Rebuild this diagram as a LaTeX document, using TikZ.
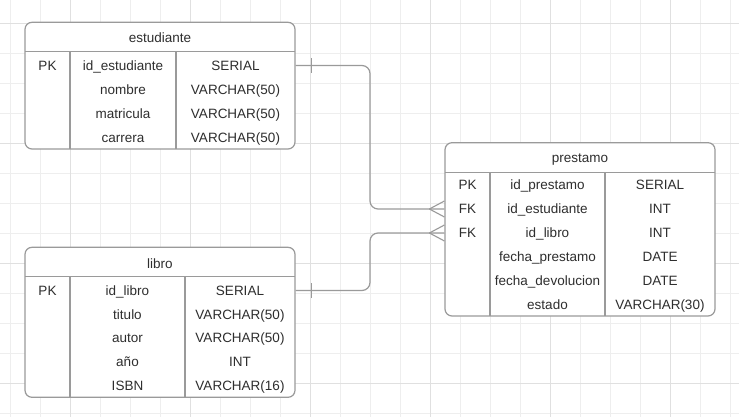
\documentclass[tikz,border=0pt]{standalone}
\usepackage{fontspec}
\setmainfont{Liberation Sans}
\definecolor{bordergray}{HTML}{9A9A9A}
\definecolor{textgray}{HTML}{2E2E2E}
\definecolor{gridminor}{HTML}{EEEEEE}
\definecolor{gridmajor}{HTML}{E0E0E0}
\begin{document}
\begin{tikzpicture}[x=1pt,y=-1pt,
  tbl/.style={draw=bordergray, line width=1.2pt, rounded corners=7pt, inner sep=0pt, fill=white},
  sep/.style={draw=bordergray, line width=1.2pt},
  cell/.style={text=textgray, font=\fontsize{13.5}{15}\selectfont, inner sep=0pt, anchor=center, text height=9.8pt, text depth=0.6pt},
  conn/.style={draw=bordergray, line width=1.2pt, rounded corners=8pt},
  mark1/.style={draw=bordergray, line width=1.1pt}
]
\useasboundingbox (0,0) rectangle (739,417);
\fill[white] (0,0) rectangle (739,417);
% grid
\foreach \i in {0,...,24} {\draw[gridminor, line width=0.8pt] (10.7+30*\i,0) -- (10.7+30*\i,417);}
\foreach \j in {0,...,13} {\draw[gridminor, line width=0.8pt] (0,23.3+30*\j) -- (739,23.3+30*\j);}
\foreach \i in {0,...,6} {\draw[gridmajor, line width=0.8pt] (70.7+120*\i,0) -- (70.7+120*\i,417);}
\foreach \j in {0,...,3} {\draw[gridmajor, line width=0.8pt] (0,23.3+120*\j) -- (739,23.3+120*\j);}

% ---- estudiante
\node[tbl, minimum width=270pt, minimum height=126.7pt] (est) at (160,85.65) {};
\draw[sep] (25,51.7) -- (295,51.7);
\draw[sep] (70,51.7) -- (70,149);
\draw[sep] (176,51.7) -- (176,149);
\node[cell] (esth) at (160,38.3) {estudiante};
\node[cell] (e1a) at (47.5,65.5) {PK};
\node[cell] (e1b) at (123,65.5) {id\_estudiante};
\node[cell] (e1c) at (235.5,65.5) {SERIAL};
\node[cell] (e2b) at (123,89.6) {nombre};
\node[cell] (e2c) at (235.5,89.6) {VARCHAR(50)};
\node[cell] (e3b) at (123,113.7) {matricula};
\node[cell] (e3c) at (235.5,113.7) {VARCHAR(50)};
\node[cell] (e4b) at (123,137.7) {carrera};
\node[cell] (e4c) at (235.5,137.7) {VARCHAR(50)};

% ---- libro
\node[tbl, minimum width=270pt, minimum height=150pt] (lib) at (160,322.3) {};
\draw[sep] (25,276.7) -- (295,276.7);
\draw[sep] (70,276.7) -- (70,397.3);
\draw[sep] (185,276.7) -- (185,397.3);
\node[cell] (libh) at (160,263.5) {libro};
\node[cell] (l1a) at (47.5,290.5) {PK};
\node[cell] (l1b) at (127.5,290.5) {id\_libro};
\node[cell] (l1c) at (240,290.5) {SERIAL};
\node[cell] (l2b) at (127.5,314.4) {titulo};
\node[cell] (l2c) at (240,314.4) {VARCHAR(50)};
\node[cell] (l3b) at (127.5,338.3) {autor};
\node[cell] (l3c) at (240,338.3) {VARCHAR(50)};
\node[cell] (l4b) at (127.5,362.2) {año};
\node[cell] (l4c) at (240,362.2) {INT};
\node[cell] (l5b) at (127.5,386.1) {ISBN};
\node[cell] (l5c) at (240,386.1) {VARCHAR(16)};

% ---- prestamo
\node[tbl, minimum width=270pt, minimum height=173.3pt] (pre) at (580,229.35) {};
\draw[sep] (445,172.7) -- (715,172.7);
\draw[sep] (490,172.7) -- (490,316);
\draw[sep] (605,172.7) -- (605,316);
\node[cell] (preh) at (580,158.3) {prestamo};
\node[cell] (p1a) at (467.5,185) {PK};
\node[cell] (p1b) at (547.5,185) {id\_prestamo};
\node[cell] (p1c) at (660,185) {SERIAL};
\node[cell] (p2a) at (467.5,209) {FK};
\node[cell] (p2b) at (547.5,209) {id\_estudiante};
\node[cell] (p2c) at (660,209) {INT};
\node[cell] (p3a) at (467.5,233) {FK};
\node[cell] (p3b) at (547.5,233) {id\_libro};
\node[cell] (p3c) at (660,233) {INT};
\node[cell] (p4b) at (547.5,257) {fecha\_prestamo};
\node[cell] (p4c) at (660,257) {DATE};
\node[cell] (p5b) at (547.5,281) {fecha\_devolucion};
\node[cell] (p5c) at (660,281) {DATE};
\node[cell] (p6b) at (547.5,305) {estado};
\node[cell] (p6c) at (660,305) {VARCHAR(30)};

% ---- connectors
\coordinate (c1s) at (est.east |- e1c);
\coordinate (c1e) at (pre.west |- p2a);
\coordinate (c2s) at (lib.east |- l1c);
\coordinate (c2e) at (pre.west |- p3a);
\draw[conn] (c1s) -- (370,65.5) -- (370,209) -- (c1e);
\draw[conn] (c2s) -- (370,290.5) -- (370,233) -- (c2e);
% one marks
\draw[mark1] ([xshift=15.7pt,yshift=-7.5pt]c1s) -- ([xshift=15.7pt,yshift=7.5pt]c1s);
\draw[mark1] ([xshift=15.7pt,yshift=-7.5pt]c2s) -- ([xshift=15.7pt,yshift=7.5pt]c2s);
% crow's feet
\draw[mark1] ([xshift=-15pt]c1e) -- ([yshift=-8pt]c1e);
\draw[mark1] ([xshift=-15pt]c1e) -- ([yshift=8pt]c1e);
\draw[mark1] ([xshift=-15pt]c2e) -- ([yshift=-8pt]c2e);
\draw[mark1] ([xshift=-15pt]c2e) -- ([yshift=8pt]c2e);
\end{tikzpicture}
\end{document}
